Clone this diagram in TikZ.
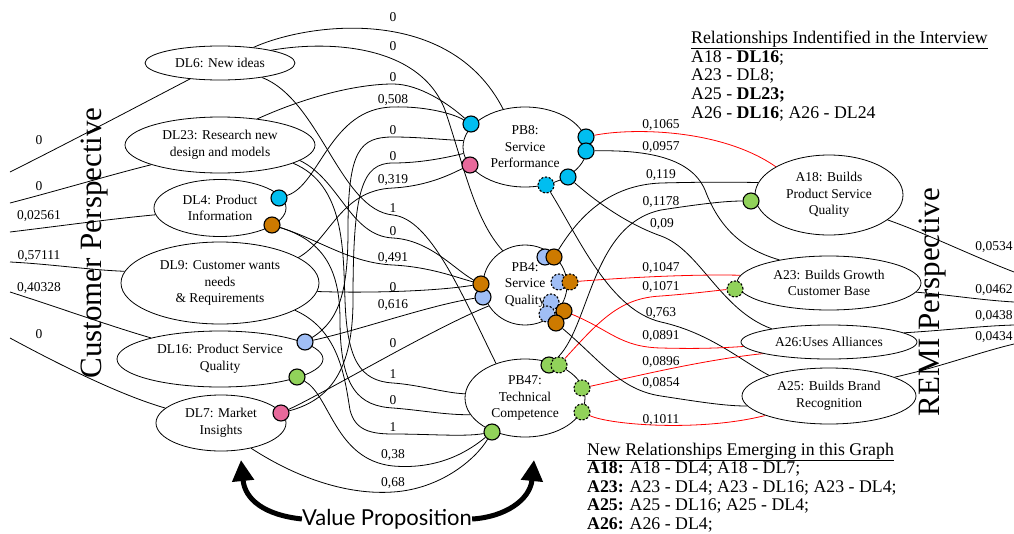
\documentclass[tikz,border=0pt]{standalone}
\usepackage{fontspec}
\setmainfont{Liberation Serif}
\newfontfamily\vpfont{Lato}
\usetikzlibrary{shapes.geometric,arrows.meta,backgrounds}
\definecolor{portcyan}{RGB}{0,190,240}
\definecolor{portorange}{RGB}{205,122,0}
\definecolor{portblue}{RGB}{160,190,245}
\definecolor{portgreen}{RGB}{145,210,90}
\definecolor{portpink}{RGB}{232,105,155}
\begin{document}
\begin{tikzpicture}[x=1pt,y=-1pt,
  ell/.style={ellipse,draw,line width=0.8pt,fill=white,inner sep=0pt,align=center,
    font=\fontsize{13.5}{16.5}\selectfont},
  port/.style={circle,draw,line width=1.1pt,minimum size=16pt,inner sep=0pt},
  dport/.style={port,dash pattern=on 2.2pt off 1.6pt},
  lbl/.style={font=\fontsize{13.5}{16}\selectfont,inner sep=0pt},
  note/.style={font=\fontsize{17.8}{19}\selectfont,inner sep=0pt,anchor=base west},
  persp/.style={font=\fontsize{31}{36}\selectfont,inner sep=0pt,rotate=90},
  edge/.style={line width=0.8pt},
  redge/.style={line width=0.8pt,red},
  bigarrow/.style={line width=5pt,-{Triangle[width=21pt,length=21pt]}}]
\useasboundingbox (0,0) rectangle (1014,533);

% ---------- DL nodes (customer side)
\node[ell,minimum width=150pt,minimum height=34pt] (DL6) at (220,63) {DL6: New ideas};
\node[ell,minimum width=190pt,minimum height=56pt] (DL23) at (220,145) {DL23: Research new\\design and models};
\node[ell,minimum width=132pt,minimum height=57pt] (DL4) at (220,208) {DL4: Product\\Information};
\node[ell,minimum width=198pt,minimum height=82pt] (DL9) at (220,283) {DL9: Customer wants\\needs\\\& Requirements};
\node[ell,minimum width=206pt,minimum height=56pt] (DL16) at (220,359) {DL16: Product Service\\Quality};
\node[ell,minimum width=130pt,minimum height=56pt] (DL7) at (221,423) {DL7: Market\\Insights};

% ---------- PB nodes
\node[ell,minimum width=124pt,minimum height=80pt] (PB8) at (525,147) {PB8:\\Service\\Performance};
\node[ell,minimum width=84pt,minimum height=80pt] (PB4) at (525,285) {PB4:\\Service\\Quality};
\node[ell,minimum width=120pt,minimum height=78pt] (PB47) at (525,398) {PB47:\\Technical\\Competence};

% ---------- A nodes (REMI side)
\node[ell,minimum width=148pt,minimum height=80pt] (A18) at (829,195) {A18: Builds\\Product Service\\Quality};
\node[ell,minimum width=184pt,minimum height=54pt] (A23) at (829,283) {A23: Builds Growth\\Customer Base};
\node[ell,minimum width=176pt,minimum height=34pt] (A26) at (829,342) {A26:Uses Alliances};
\node[ell,minimum width=174pt,minimum height=56pt] (A25) at (829,396) {A25: Builds Brand\\Recognition};

% ---------- ports
\node[port,fill=portcyan] (DL4c) at (279,198) {};
\node[port,fill=portorange] (DL4o) at (272,225) {};
\node[port,fill=portblue] (DL16b) at (305,342) {};
\node[port,fill=portgreen] (DL16g) at (297,377) {};
\node[port,fill=portpink] (DL7p) at (281,413) {};

\node[port,fill=portcyan] (PB8c1) at (471,124) {};
\node[port,fill=portpink] (PB8p) at (470,165) {};
\node[port,fill=portcyan] (PB8c2) at (586,137) {};
\node[port,fill=portcyan] (PB8c3) at (586,151) {};
\node[port,fill=portcyan] (PB8c4) at (568,177) {};
\node[dport,fill=portcyan] (PB8d) at (546,185) {};

\node[port,fill=portblue] (PB4b1) at (483,297) {};
\node[port,fill=portorange] (PB4o1) at (481,284) {};
\node[port,fill=portblue] (PB4b2) at (545,257) {};
\node[port,fill=portorange] (PB4o2) at (554,257) {};
\node[dport,fill=portblue] (PB4b3) at (559,282) {};
\node[dport,fill=portorange] (PB4o3) at (570,282) {};
\node[dport,fill=portblue] (PB4b4) at (551,302) {};
\node[dport,fill=portblue] (PB4b5) at (547,314) {};
\node[port,fill=portorange] (PB4o4) at (564,311) {};
\node[port,fill=portorange] (PB4o5) at (556,323) {};

\node[port,fill=portgreen] (PB47g1) at (549,365) {};
\node[dport,fill=portgreen] (PB47d1) at (559,365) {};
\node[dport,fill=portgreen] (PB47d2) at (582,388) {};
\node[dport,fill=portgreen] (PB47d3) at (582,412) {};
\node[port,fill=portgreen] (PB47g) at (492,432) {};

\node[port,fill=portgreen] (A18g) at (751,201) {};
\node[dport,fill=portgreen] (A23g) at (735,289) {};

% ---------- free ends at the picture border
\coordinate (in1) at (10,172);
\coordinate (in2) at (10,203);
\coordinate (in3) at (10,232);
\coordinate (in4) at (10,262);
\coordinate (in5) at (10,292);
\coordinate (in6) at (10,338);
\coordinate (out1) at (1014,272);
\coordinate (out2) at (1014,302);
\coordinate (out3) at (1014,325);
\coordinate (out4) at (1014,344);

% ---------- edge labels
\foreach \n/\x/\y/\t in {a1/39/140/0, a2/39/186/0, a3/39/216/{0,02561}, a4/39/256/{0,57111},
  a5/39/288/{0,40328}, a6/39/334/0,
  m1/393/17/0, m2/393/46/0, m3/393/77/0, m4/393/100/{0,508}, m5/393/130/0, m6/393/156/0,
  m7/393/180/{0,319}, m8/393/208/1, m9/393/231/0, m10/393/258/{0,491}, m11/393/287/0,
  m12/393/305/{0,616}, m13/393/343/0, m14/393/374/1, m15/393/400/0, m16/393/427/1,
  m17/393/455/{0,38}, m18/393/483/{0,68},
  r1/661/125/{0,1065}, r2/661/147/{0,0957}, r3/661/175/{0,119}, r4/661/202/{0,1178},
  r5/662/224/{0,09}, r6/661/268/{0,1047}, r7/661/287/{0,1071}, r8/661/313/{0,763},
  r9/661/336/{0,0891}, r10/661/362/{0,0896}, r11/661/383/{0,0854}, r12/661/420/{0,1011},
  o1/994/247/{0,0534}, o2/994/290/{0,0462}, o3/994/316/{0,0438}, o4/994/337/{0,0434}}
  {\node[lbl] (\n) at (\x,\y) {\t};}

% ---------- connectors
\begin{pgfonlayer}{background}
% incoming on the customer side
\draw[edge] (in1) .. controls (70,142) and (140,105) .. (DL6.-152);
\draw[edge] (in2) .. controls (60,190) and (110,175) .. (DL23.-164);
\draw[edge] (in3) .. controls (60,226) and (110,219) .. (DL4.-174);
\draw[edge] (in4) .. controls (50,264) and (90,270) .. (DL9.173);
\draw[edge] (in5) .. controls (60,308) and (110,326) .. (DL16.163);
\draw[edge] (in6) .. controls (60,365) and (120,395) .. (DL7.165);

% DL -> PB
\draw[edge] (DL6.25) .. controls (310,22) and (450,5) .. (PB8.120);
\draw[edge] (DL6.14) .. controls (330,40) and (420,45) .. (445,110) .. controls (465,170) and (475,220) .. (PB4.123);
\draw[edge] (DL23.35) .. controls (310,95) and (360,84) .. (393,84) .. controls (420,84) and (450,105) .. (PB8c1);
\draw[edge] (DL4c) .. controls (320,185) and (330,108) .. (393,107) .. controls (420,106) and (450,112) .. (PB8c1);
\draw[edge] (DL16b) .. controls (340,320) and (348,290) .. (348,230) .. controls (348,150) and (360,137) .. (393,137) .. controls (420,137) and (445,140) .. (PB8.174);
\draw[edge] (DL7p) .. controls (330,400) and (353,370) .. (353,300) .. controls (353,190) and (362,163) .. (393,163) .. controls (420,163) and (445,158) .. (PB8.-174);
\draw[edge] (DL9.18) .. controls (330,240) and (340,190) .. (393,188) .. controls (430,186) and (455,172) .. (PB8p);
\draw[edge] (DL6.-19) .. controls (320,100) and (340,210) .. (393,215) .. controls (430,219) and (460,290) .. (PB47.130);
\draw[edge] (DL23.-11) .. controls (340,180) and (350,236) .. (393,238) .. controls (430,240) and (455,270) .. (PB4o1);
\draw[edge] (DL4o) .. controls (320,240) and (350,263) .. (393,265) .. controls (430,267) and (455,277) .. (PB4o1);
\draw[edge] (DL9.-5) .. controls (360,293) and (430,292) .. (PB4o1);
\draw[edge] (DL16b) .. controls (360,330) and (430,305) .. (PB4b1);
\draw[edge] (DL7p) .. controls (330,390) and (430,330) .. (PB4.-150);
\draw[edge] (DL23.-14) .. controls (345,185) and (343,250) .. (345,300) .. controls (347,360) and (360,381) .. (393,383) .. controls (420,385) and (445,393) .. (PB47.176);
\draw[edge] (DL4o) .. controls (320,240) and (340,265) .. (340,320) .. controls (340,390) and (360,406) .. (393,408) .. controls (420,410) and (445,415) .. (PB47.-163);
\draw[edge] (DL9.-20) .. controls (340,330) and (345,380) .. (350,410) .. controls (355,430) and (370,434) .. (393,434) .. controls (430,434) and (465,437) .. (PB47g);
\draw[edge] (DL16g) .. controls (330,395) and (335,460) .. (393,466) .. controls (440,470) and (470,450) .. (PB47g);
\draw[edge] (DL7.-40) .. controls (300,480) and (350,495) .. (393,492) .. controls (440,489) and (475,460) .. (PB47g);

% PB -> A
\draw[redge] (PB8c2) .. controls (630,128) and (720,128) .. (A18.152);
\draw[edge] (PB8c3) .. controls (640,150) and (690,155) .. (705,190) .. controls (720,230) and (745,250) .. (A23.155);
\draw[edge] (PB4o2) .. controls (580,215) and (610,185) .. (661,183) .. controls (700,182) and (730,182) .. (A18.170);
\draw[edge] (PB47g1) .. controls (590,330) and (590,225) .. (661,210) .. controls (700,204) and (725,201) .. (A18g);
\draw[edge] (PB8c4) .. controls (600,205) and (630,225) .. (661,236) .. controls (700,250) and (720,310) .. (A26.167);
\draw[redge] (PB4o3) .. controls (620,278) and (690,274) .. (A23.175);
\draw[redge] (PB47d1) .. controls (600,320) and (620,298) .. (661,296) .. controls (700,293) and (720,290) .. (A23g);
\draw[edge] (PB8d) .. controls (580,240) and (610,310) .. (661,322) .. controls (710,333) and (740,360) .. (A25.161);
\draw[redge] (PB4o4) .. controls (610,330) and (620,347) .. (661,348) .. controls (700,349) and (720,348) .. (A26.-177);
\draw[redge] (PB47d2) .. controls (620,380) and (700,360) .. (A26.-170);
\draw[edge] (PB4o5) .. controls (600,360) and (620,390) .. (661,396) .. controls (700,402) and (725,406) .. (A25.-173);
\draw[redge] (PB47d3) .. controls (610,425) and (700,432) .. (A25.-163);

% outgoing on the REMI side
\draw[edge] (A18.-23) .. controls (930,235) and (970,255) .. (out1);
\draw[edge] (A23.-6) .. controls (950,295) and (980,300) .. (out2);
\draw[edge] (A26.7) .. controls (950,330) and (980,326) .. (out3);
\draw[edge] (A25.16) .. controls (940,367) and (980,352) .. (out4);
\end{pgfonlayer}

% ---------- perspectives
\node[persp] (cust) at (95,243) {Customer Perspective};
\node[persp] (remi) at (933,302) {REMI Perspective};

% ---------- relationship notes
\node[note] (n1) at (691,43) {\underline{Relationships Indentified in the Interview}};
\node[note] (n2) at (691,62) {A18 - \textbf{DL16};};
\node[note] (n3) at (691,80.5) {A23 - DL8;};
\node[note] (n4) at (691,99) {A25 - \textbf{DL23;}};
\node[note] (n5) at (691,118) {A26 - \textbf{DL16}; A26 - DL24};

\node[note] (g1) at (587,455) {\underline{New Relationships Emerging in this Graph}};
\node[note] (g2) at (587,473.5) {\textbf{A18:} A18 - DL4; A18 - DL7;};
\node[note] (g3) at (587,492) {\textbf{A23:} A23 - DL4; A23 - DL16; A23 - DL4;};
\node[note] (g4) at (587,510.5) {\textbf{A25:} A25 - DL16; A25 - DL4;};
\node[note] (g5) at (587,529) {\textbf{A26:} A26 - DL4;};

% ---------- value proposition
\node[font=\vpfont\fontsize{22}{26}\selectfont,inner sep=0pt] (vp) at (387,519) {Value Proposition};
\coordinate (vpl) at (241,460);
\coordinate (vpr) at (534,460);
\draw[bigarrow] (vp.west) .. controls (265,515) and (245,500) .. (vpl);
\draw[bigarrow] (vp.east) .. controls (505,517) and (530,500) .. (vpr);
\end{tikzpicture}
\end{document}
